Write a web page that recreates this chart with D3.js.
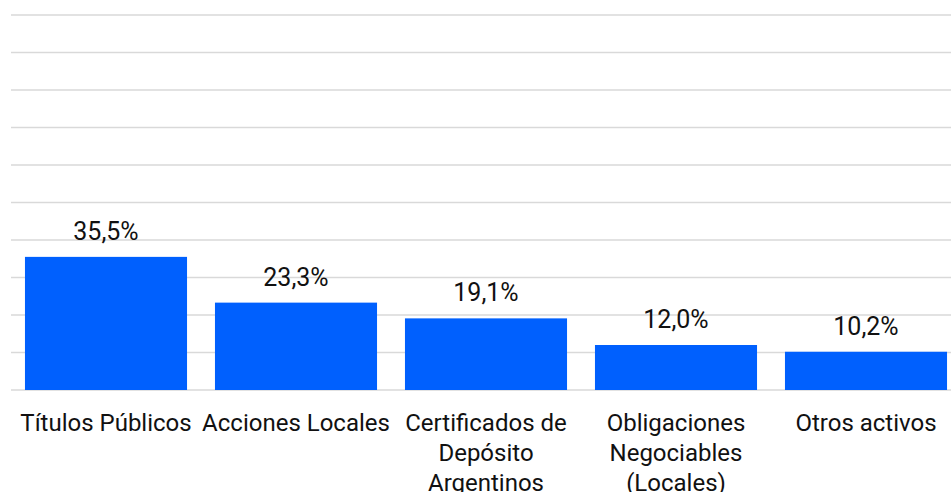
<!DOCTYPE html>
<html>
<head>
<meta charset="utf-8">
<script src="https://cdn.jsdelivr.net/npm/d3@7"></script>
<style>
  body { margin: 0; background: #fff; }
  text { font-family: Roboto, "Liberation Sans", sans-serif; fill: #111; }
</style>
</head>
<body>
<div id="chart"></div>
<script>
var categories = [
  ['Títulos Públicos'],
  ['Acciones Locales'],
  ['Certificados de', 'Depósito', 'Argentinos'],
  ['Obligaciones', 'Negociables', '(Locales)'],
  ['Otros activos']
]
var values = [35.5, 23.3, 19.1, 12.0, 10.2]
var gridTicks = [0, 10, 20, 30, 40, 50, 60, 70, 80, 90, 100]

var width = 951
var height = 492

var x = d3.scaleBand()
  .domain(d3.range(categories.length))
  .range([11, 961])
  .paddingInner(0.147)
  .paddingOuter(0.0735)

var y = d3.scaleLinear()
  .domain([0, 100])
  .range([390, 15])

var svg = d3.select('#chart')
  .append('svg')
  .attr('width', width)
  .attr('height', height)

// gridlines
svg.selectAll('line.grid')
  .data(gridTicks)
  .enter().append('line')
  .attr('class', 'grid')
  .attr('x1', 11)
  .attr('x2', width)
  .attr('y1', function (d) { return y(d) })
  .attr('y2', function (d) { return y(d) })
  .attr('stroke', '#d9d9d9')
  .attr('stroke-width', 1.5)

// bars
svg.selectAll('rect')
  .data(values)
  .enter().append('rect')
  .attr('x', function (d, i) { return x(i) })
  .attr('y', function (d) { return y(d) })
  .attr('width', x.bandwidth())
  .attr('height', function (d) { return y(0) - y(d) })
  .attr('fill', '#0060fe')

// value labels
svg.selectAll('text.value')
  .data(values)
  .enter().append('text')
  .attr('class', 'value')
  .attr('x', function (d, i) { return x(i) + x.bandwidth() / 2 })
  .attr('y', function (d) { return y(d) - 17 })
  .attr('text-anchor', 'middle')
  .style('font-size', '25px')
  .text(function (d) { return d.toFixed(1).replace('.', ',') + '%' })

// category labels
var cat = svg.selectAll('text.cat')
  .data(categories)
  .enter().append('text')
  .attr('class', 'cat')
  .attr('text-anchor', 'middle')
  .style('font-size', '24px')

cat.selectAll('tspan')
  .data(function (d, i) { return d.map(function (s) { return { s: s, i: i } }) })
  .enter().append('tspan')
  .attr('x', function (d) { return x(d.i) + x.bandwidth() / 2 })
  .attr('y', function (d, j) { return 431 + j * 30 })
  .text(function (d) { return d.s })
</script>
</body>
</html>
